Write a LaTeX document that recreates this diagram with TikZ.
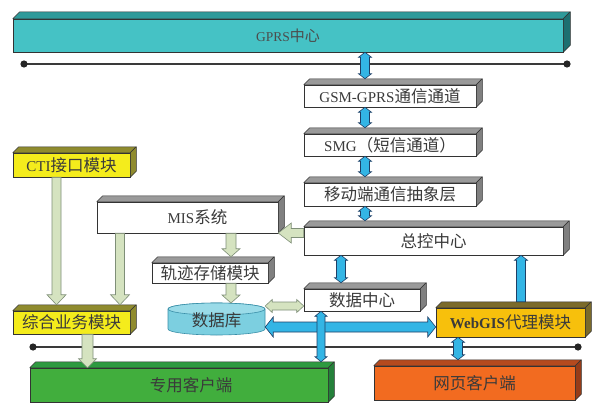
\documentclass[tikz,border=0pt]{standalone}
\usepackage{fontspec}
\setmainfont{Liberation Serif}
\newfontfamily\cjk{Noto Sans CJK SC}
\usetikzlibrary{calc}
\definecolor{gprsF}{HTML}{45C2C5}
\definecolor{gprsT}{HTML}{2F9A9A}
\definecolor{gprsS}{HTML}{1D6F70}
\definecolor{whT}{HTML}{9A9A9A}
\definecolor{whS}{HTML}{808080}
\definecolor{yeF}{HTML}{F4EC1C}
\definecolor{yeT}{HTML}{8F8B2E}
\definecolor{goF}{HTML}{F7C00C}
\definecolor{goT}{HTML}{7B6A2A}
\definecolor{grF}{HTML}{41AE3D}
\definecolor{grT}{HTML}{2E9A40}
\definecolor{grS}{HTML}{24803A}
\definecolor{orF}{HTML}{F26B20}
\definecolor{orT}{HTML}{B54A1E}
\definecolor{orS}{HTML}{963C18}
\definecolor{arrblue}{HTML}{33B5E5}
\definecolor{arrblueline}{HTML}{1F3F66}
\definecolor{arrgreen}{HTML}{D5E3C0}
\definecolor{arrgreenline}{HTML}{7F8F78}
\definecolor{dbbody}{HTML}{7CCFE0}
\definecolor{dbtopc}{HTML}{9ADBE8}
\definecolor{dbline}{HTML}{3A8FA8}
\definecolor{txt}{HTML}{3A3A3A}
\definecolor{busc}{HTML}{3A3A3A}
\newcommand\zh[1]{{\cjk\fontsize{16.5}{18}\selectfont #1}}
\def\dep{6}
\newcommand\tdbox[9]{%
  \node[frontbox, fill=#6, minimum width={(#4-#2)*1pt}, minimum height={(#5-#3)*1pt}] (#1) at ({(#2+#4)/2},{(#3+#5)/2}) {#9};
  \filldraw[face, fill=#7] (#1.north west) -- ++(\dep,-\dep) -- ([shift={(\dep,-\dep)}]#1.north east) -- (#1.north east) -- cycle;
  \filldraw[face, fill=#8] (#1.north east) -- ++(\dep,-\dep) -- ([shift={(\dep,-\dep)}]#1.south east) -- (#1.south east) -- cycle;
  \coordinate (#1T) at ([yshift=\dep pt]#1.north);
}
% double block arrow: style, A, B, shaft half width, head half width, head length
\newcommand\dblarrow[6]{%
  \coordinate (arA) at (#2); \coordinate (arB) at (#3);
  \coordinate (arHA) at ($(arA)!#6!(arB)$);
  \coordinate (arHB) at ($(arB)!#6!(arA)$);
  \draw[#1] (arA) -- ($(arHA)!#5!90:(arB)$) -- ($(arHA)!#4!90:(arB)$) -- ($(arHB)!#4!-90:(arA)$) -- ($(arHB)!#5!-90:(arA)$) -- (arB)
    -- ($(arHB)!#5!90:(arA)$) -- ($(arHB)!#4!90:(arA)$) -- ($(arHA)!#4!-90:(arB)$) -- ($(arHA)!#5!-90:(arB)$) -- cycle;
}
% single block arrow: style, tail, tip, shaft half width, head half width, head length
\newcommand\sglarrow[6]{%
  \coordinate (arA) at (#2); \coordinate (arB) at (#3);
  \coordinate (arHB) at ($(arB)!#6!(arA)$);
  \draw[#1] ($(arA)!#4!90:(arB)$) -- ($(arHB)!#4!-90:(arA)$) -- ($(arHB)!#5!-90:(arA)$) -- (arB)
    -- ($(arHB)!#5!90:(arA)$) -- ($(arHB)!#4!90:(arA)$) -- ($(arA)!#4!-90:(arB)$) -- cycle;
}
\tikzset{
  frontbox/.style={draw=black!80, line width=0.5pt, inner sep=0pt, text=txt, font=\fontsize{15}{17}\selectfont},
  face/.style={draw=black!80, line width=0.5pt, line join=round},
  bluearr/.style={fill=arrblue, draw=arrblueline, line width=0.6pt, line join=miter},
  greenarr/.style={fill=arrgreen, draw=arrgreenline, line width=0.6pt, line join=miter},
  busline/.style={draw=busc, line width=1.6pt},
  busdot/.style={fill=black!85},
}
\begin{document}
\begin{tikzpicture}[x=1pt,y=-1pt]
\useasboundingbox[fill=white] (0,0) rectangle (608,415);
% bus lines
\coordinate (tl) at (24,64); \coordinate (tr) at (567,64);
\coordinate (bl) at (33,347); \coordinate (br) at (578,347);
\draw[busline] (tl) -- (tr);
\draw[busline] (bl) -- (br);
\foreach \p in {tl,tr,bl,br} \fill[busdot] (\p) circle (3.6pt);
% boxes
\def\dep{7}
\tdbox{gprs}{13}{19}{563}{52}{gprsF}{gprsT}{gprsS}{\color{black!70}{\fontsize{13.5}{15}\selectfont GPRS}{\cjk\fontsize{15}{17}\selectfont 中心}}
\def\dep{6}
\tdbox{gsm}{304}{85}{476}{107}{white}{whT}{whS}{GSM-GPRS\zh{通信通道}}
\tdbox{smg}{304}{134}{476}{156}{white}{whT}{whS}{SMG\zh{（短信通道）}}
\tdbox{mob}{304}{183}{476}{206}{white}{whT}{whS}{\zh{移动端通信抽象层}}
\tdbox{ctrl}{304}{227}{563}{255}{white}{whT}{whS}{\zh{总控中心}}
\tdbox{mis}{97}{202}{278}{233}{white}{whT}{whS}{\hspace{20pt}MIS\zh{系统}}
\tdbox{cti}{13}{153}{130}{177}{yeF}{yeT}{yeT}{CTI\zh{接口模块}}
\tdbox{trk}{152}{263}{268}{283}{white}{whT}{whS}{\zh{轨迹存储模块}}
\tdbox{dc}{304}{289}{420}{311}{white}{whT}{whS}{\zh{数据中心}}
\tdbox{zh}{13}{311}{130}{334}{yeF}{yeT}{yeT}{\zh{综合业务模块}}
\tdbox{web}{436}{308}{585}{337}{goF}{goT}{goT}{\textbf{WebGIS}\zh{代理模块}}
\tdbox{pri}{30}{368}{328}{402}{grF}{grT}{grS}{\hspace{24pt}\zh{专用客户端}}
\tdbox{webc}{374}{366}{575}{400}{orF}{orT}{orS}{\zh{网页客户端}}
% database cylinder
\filldraw[fill=dbbody, draw=dbline, line width=0.6pt] (168,309) -- (168,329) arc[start angle=180, end angle=360, x radius=48.5pt, y radius=6pt] -- (265,309) arc[start angle=0, end angle=180, x radius=48.5pt, y radius=6pt] -- cycle;
\filldraw[fill=dbtopc, draw=dbline, line width=0.6pt] (216.5,309) ellipse [x radius=48.5pt, y radius=6pt];
\node[inner sep=0pt, minimum width=97pt, minimum height=32pt, text=txt] (db) at (216.5,320) {\zh{数据库}};
\coordinate (dbT) at (216.5,303);
% guide coordinates
\coordinate (v365) at (365,0); \coordinate (v341) at (341,0); \coordinate (v521) at (521,0);
\coordinate (v321) at (321,0); \coordinate (v458) at (458,0);
\coordinate (v56) at (56.5,0); \coordinate (v120) at (120,0); \coordinate (v231) at (231,0);
\coordinate (v87) at (87.5,0);
\coordinate (h232) at (0,233); \coordinate (h306) at (0,306); \coordinate (h327) at (0,327);
% green arrows
\sglarrow{greenarr}{cti.south -| v56}{zhT -| v56}{4.5pt}{9.5pt}{10pt}
\sglarrow{greenarr}{mis.south -| v120}{zhT -| v120}{4.5pt}{9.5pt}{10pt}
\sglarrow{greenarr}{mis.south -| v231}{trkT -| v231}{5pt}{9pt}{8pt}
\sglarrow{greenarr}{ctrl.west |- h232}{mis.east |- h232}{4.5pt}{10pt}{13pt}
\sglarrow{greenarr}{trk.south -| v231}{dbT -| v231}{5pt}{9pt}{8pt}
\dblarrow{greenarr}{db.east |- h306}{dc.west |- h306}{4pt}{6.5pt}{7pt}
\sglarrow{greenarr}{zh.south -| v87}{pri.north -| v87}{5.5pt}{9pt}{9pt}
% blue arrows
\dblarrow{bluearr}{gprs.south -| v365}{gsmT -| v365}{4.5pt}{6.5pt}{5pt}
\dblarrow{bluearr}{gsm.south -| v365}{smgT -| v365}{4.5pt}{6.5pt}{5pt}
\dblarrow{bluearr}{smg.south -| v365}{mobT -| v365}{4.5pt}{6.5pt}{5pt}
\dblarrow{bluearr}{mob.south -| v365}{ctrlT -| v365}{4.5pt}{6.5pt}{5pt}
\dblarrow{bluearr}{ctrl.south -| v341}{dcT -| v341}{4.5pt}{6.5pt}{5pt}
\sglarrow{bluearr}{webT -| v521}{ctrl.south -| v521}{4.5pt}{6.5pt}{5pt}
\dblarrow{bluearr}{db.east |- h327}{web.west |- h327}{5pt}{10pt}{8pt}
\dblarrow{bluearr}{dc.south -| v321}{priT -| v321}{4pt}{6pt}{5pt}
\dblarrow{bluearr}{web.south -| v458}{webcT -| v458}{4.5pt}{6.5pt}{5pt}
\end{tikzpicture}
\end{document}
